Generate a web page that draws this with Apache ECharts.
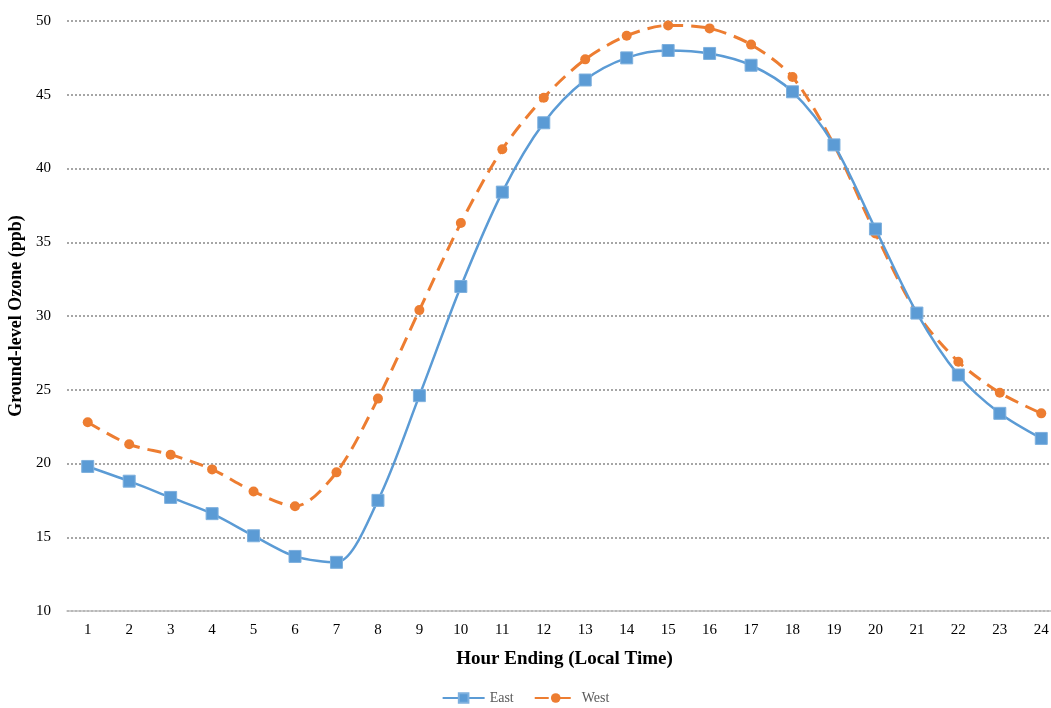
<!DOCTYPE html>
<html>
<head>
<meta charset="utf-8">
<script src="https://cdn.jsdelivr.net/npm/echarts@6/dist/echarts.min.js"></script>
<style>
html, body { margin: 0; padding: 0; background: #fff; }
#main { width: 1051px; height: 708px; }
</style>
</head>
<body>
<div id="main"></div>
<script>
// 数据
var hours = ['1','2','3','4','5','6','7','8','9','10','11','12','13','14','15','16','17','18','19','20','21','22','23','24'];
var eastData = [19.8, 18.8, 17.7, 16.6, 15.1, 13.7, 13.3, 17.5, 24.6, 32.0, 38.4, 43.1, 46.0, 47.5, 48.0, 47.8, 47.0, 45.2, 41.6, 35.9, 30.2, 26.0, 23.4, 21.7];
var westData = [22.8, 21.3, 20.6, 19.6, 18.1, 17.1, 19.4, 24.4, 30.4, 36.3, 41.3, 44.8, 47.4, 49.0, 49.7, 49.5, 48.4, 46.2, 41.6, 35.6, 30.2, 26.9, 24.8, 23.4];
var seriesNames = ['East', 'West'];

var myChart = echarts.init(document.getElementById('main'));
var font = 'Liberation Serif';

var option = {
    color: ['#5b9bd5', '#ed7d31'],
    textStyle: { fontFamily: font },
    legend: {
        data: seriesNames,
        bottom: -2,
        left: 'center',
        itemWidth: 42,
        itemHeight: 12,
        itemGap: 20,
        textStyle: { fontFamily: font, fontSize: 14, color: '#595959' }
    },
    grid: {
        left: 67,
        right: -11, // 最后一格被裁掉一半
        top: 21,
        height: 590,
        outerBoundsMode: 'none'
    },
    xAxis: {
        type: 'category',
        data: hours,
        boundaryGap: true,
        name: 'Hour Ending (Local Time)',
        nameLocation: 'middle',
        nameGap: 39,
        nameTextStyle: { fontFamily: font, fontSize: 19, fontWeight: 'bold', color: '#000' },
        axisLine: { lineStyle: { color: '#bfbfbf', width: 1.5 } },
        axisTick: { alignWithLabel: true, length: 5, lineStyle: { color: '#bfbfbf' } },
        axisLabel: { fontFamily: font, fontSize: 15, color: '#000', margin: 12 }
    },
    yAxis: {
        type: 'value',
        min: 10,
        max: 50,
        interval: 5,
        name: 'Ground-level Ozone (ppb)',
        nameLocation: 'middle',
        nameGap: 32,
        nameTextStyle: { fontFamily: font, fontSize: 18, fontWeight: 'bold', color: '#000' },
        axisLine: { show: false },
        axisTick: { show: false },
        axisLabel: { fontFamily: font, fontSize: 15, color: '#000', margin: 16 },
        splitLine: {
            lineStyle: { color: '#a6a6a6', type: [2, 2], width: 2 } // 虚线网格
        }
    },
    series: [
        {
            name: 'East',
            type: 'line',
            data: eastData,
            smooth: 0.3,
            symbol: 'rect',
            symbolSize: 12,
            lineStyle: { width: 2.5, color: '#5b9bd5' },
            itemStyle: { color: '#5b9bd5', borderColor: '#7eb0de', borderWidth: 1 },
            z: 3
        },
        {
            name: 'West',
            type: 'line',
            data: westData,
            smooth: 0.3,
            symbol: 'circle',
            symbolSize: 10,
            lineStyle: { width: 3, color: '#ed7d31', type: [14, 8] },
            itemStyle: { color: '#ed7d31' },
            z: 2
        }
    ]
};

myChart.setOption(option);
</script>
</body>
</html>
